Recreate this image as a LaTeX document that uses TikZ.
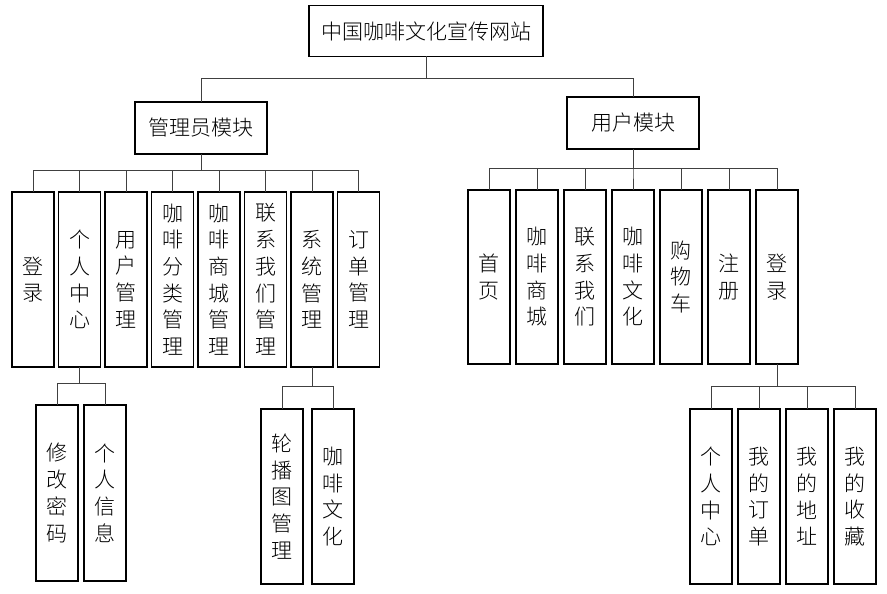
\documentclass[tikz,border=0pt]{standalone}
\usepackage{fontspec}
\usepackage{tikz}
\usetikzlibrary{positioning}
\newfontfamily\cjk{Noto Sans CJK SC Light}

\begin{document}
\begin{tikzpicture}[
    x=1pt, y=-1pt,
    node distance=4.5pt,
    head/.style={rectangle, draw=black, line width=1.2pt, inner sep=0pt, outer sep=0pt,
                 minimum width=132pt, minimum height=52pt,
                 font=\cjk\fontsize{21}{24}\selectfont},
    leaf/.style={rectangle, draw=black, line width=1.2pt, inner sep=0pt, outer sep=0pt,
                 minimum width=42pt, minimum height=175pt, align=center,
                 font=\cjk\fontsize{21}{26.7}\selectfont},
    link/.style={line width=0.8pt, black!75}
]
\useasboundingbox (0,0) rectangle (887,594);

% Root
\node[head, minimum width=234pt, minimum height=51pt] (site) at (426,31) {中国咖啡文化宣传网站};

% Modules
\node[head] (admin) at (201,128) {管理员模块};
\node[head] (user) at (633,123) {用户模块};

% Admin module
\node[leaf] (alogin) at (33,279.5) {登\\录};
\node[leaf, right=of alogin] (acenter) {个\\人\\中\\心};
\node[leaf, right=of acenter] (auser) {用\\户\\管\\理};
\node[leaf, right=of auser] (acat) {咖\\啡\\分\\类\\管\\理};
\node[leaf, right=of acat] (ashop) {咖\\啡\\商\\城\\管\\理};
\node[leaf, right=of ashop] (acontact) {联\\系\\我\\们\\管\\理};
\node[leaf, right=of acontact] (asys) {系\\统\\管\\理};
\node[leaf, right=of asys] (aorder) {订\\单\\管\\理};

% User module
\node[leaf, minimum height=174pt] (uhome) at (489,277) {首\\页};
\node[leaf, minimum height=174pt, right=6pt of uhome] (ushop) {咖\\啡\\商\\城};
\node[leaf, minimum height=174pt, right=6pt of ushop] (ucontact) {联\\系\\我\\们};
\node[leaf, minimum height=174pt, right=6pt of ucontact] (uculture) {咖\\啡\\文\\化};
\node[leaf, minimum height=174pt, right=6pt of uculture] (ucart) {购\\物\\车};
\node[leaf, minimum height=174pt, right=6pt of ucart] (ureg) {注\\册};
\node[leaf, minimum height=174pt, right=6pt of ureg] (ulogin) {登\\录};

% Third level
\node[leaf, minimum height=176pt] (pwd) at (57,493) {修\\改\\密\\码};
\node[leaf, minimum height=176pt, right=6pt of pwd] (info) {个\\人\\信\\息};

\node[leaf] (banner) at (282,496.5) {轮\\播\\图\\管\\理};
\node[leaf, right=9pt of banner] (culture) {咖\\啡\\文\\化};

\node[leaf] (ucenter) at (711,496.5) {个\\人\\中\\心};
\node[leaf, right=6pt of ucenter] (uorder) {我\\的\\订\\单};
\node[leaf, right=6pt of uorder] (uaddr) {我\\的\\地\\址};
\node[leaf, right=6pt of uaddr] (ufav) {我\\的\\收\\藏};

% Connectors
\draw[link] (site.south) -- ++(0,22) -| (admin.north);
\draw[link] (site.south) -- ++(0,22) -| (user.north);

\draw[link] (admin.south) -- ++(0,16) -| (alogin.north);
\draw[link] (admin.south) -- ++(0,16) -| (acenter.north);
\draw[link] (admin.south) -- ++(0,16) -| (auser.north);
\draw[link] (admin.south) -- ++(0,16) -| (acat.north);
\draw[link] (admin.south) -- ++(0,16) -| (ashop.north);
\draw[link] (admin.south) -- ++(0,16) -| (acontact.north);
\draw[link] (admin.south) -- ++(0,16) -| (asys.north);
\draw[link] (admin.south) -- ++(0,16) -| (aorder.north);

\draw[link] (user.south) -- ++(0,19) -| (uhome.north);
\draw[link] (user.south) -- ++(0,19) -| (ushop.north);
\draw[link] (user.south) -- ++(0,19) -| (ucontact.north);
\draw[link] (user.south) -- ++(0,19) -| (uculture.north);
\draw[link] (user.south) -- ++(0,19) -| (ucart.north);
\draw[link] (user.south) -- ++(0,19) -| (ureg.north);
\draw[link] (user.south) -- ++(0,19) -| (ulogin.north);

\draw[link] (acenter.south) -- ++(0,16) -| (pwd.north);
\draw[link] (acenter.south) -- ++(0,16) -| (info.north);

\draw[link] (asys.south) -- ++(0,19) -| (banner.north);
\draw[link] (asys.south) -- ++(0,19) -| (culture.north);

\draw[link] (ulogin.south) -- ++(0,22) -| (ucenter.north);
\draw[link] (ulogin.south) -- ++(0,22) -| (uorder.north);
\draw[link] (ulogin.south) -- ++(0,22) -| (uaddr.north);
\draw[link] (ulogin.south) -- ++(0,22) -| (ufav.north);
\end{tikzpicture}
\end{document}
